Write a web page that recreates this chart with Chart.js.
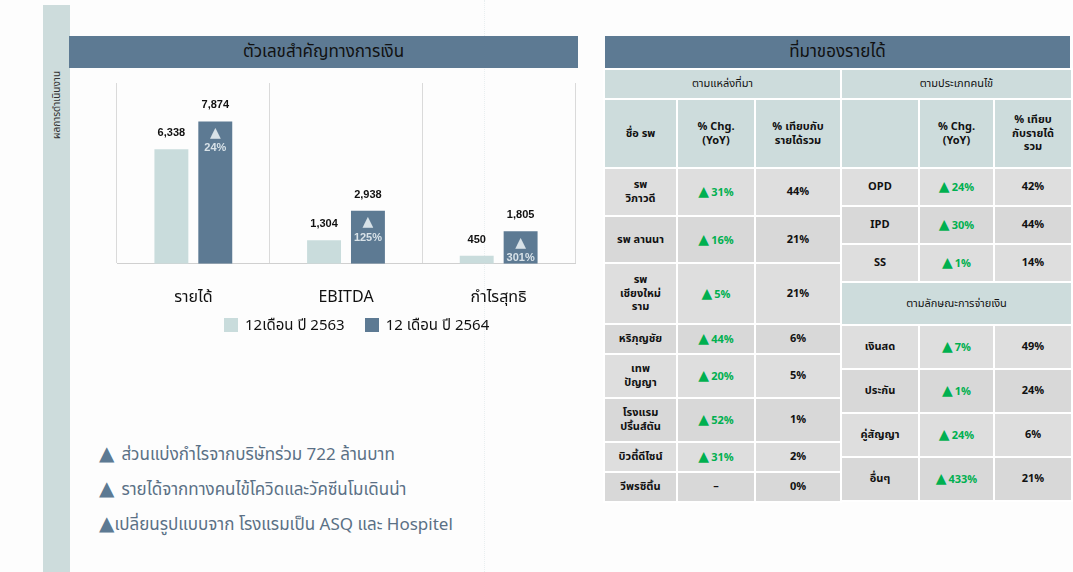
<!DOCTYPE html>
<html>
<head>
<meta charset="utf-8">
<script src="https://cdn.jsdelivr.net/npm/chart.js@4.4.1/dist/chart.umd.min.js"></script>
<style>
  body { margin:0; width:1073px; height:572px; background:#fdfdfd; position:relative; overflow:hidden;
         font-family:"Noto Sans Thai","Noto Sans",sans-serif; }
  .strip { position:absolute; left:43px; top:5px; width:27px; height:567px; background:#cddcdc; }
  .strip span { position:absolute; left:-40px; top:92px; width:108px; transform:rotate(-90deg);
                font-size:10px; color:#333; text-align:center; white-space:nowrap; }
  .dotline { position:absolute; left:484px; top:0; height:572px; border-left:1px dotted #e9eff0; }
  .hbar { position:absolute; height:32px; background:#5d7a93; color:#111; font-size:17px;
          line-height:32px; text-align:center; }
  #chartBox { position:absolute; left:69px; top:68px; width:509px; height:265px; }
  .legend { position:absolute; top:314px; left:224px; font-size:15px; color:#111; white-space:nowrap; }
  .legend span { display:inline-block; width:14px; height:14px; vertical-align:-2px; margin-right:7px; }
  .notes { position:absolute; left:99px; top:438px; color:#5a7085; font-size:17px; }
  .notes div { height:35px; line-height:30px; white-space:nowrap; }
  .notes b { color:#5d7a93; font-weight:normal; font-size:20px; font-family:"DejaVu Sans",sans-serif; }
  .notes b.gap { margin-right:7px; }
  table { position:absolute; border-collapse:collapse; table-layout:fixed; }
  td { border:2px solid #fff; text-align:center; font-size:11px; font-weight:bold; color:#111;
       padding:0 2px; line-height:1.25; }
  td.sub { background:#cddcdc; font-weight:normal; }
  td.hd { background:#cddcdc; }
  tr.r0 td { background:#dedede; }
  tr.r1 td { background:#d8d8d8; }
  .up { color:#00b050; }
  .up b { font-size:14px; font-family:"DejaVu Sans",sans-serif; margin-right:2px; }
</style>
</head>
<body>
<div class="strip"><span>ผลการดำเนินงาน</span></div>
<div class="dotline"></div>
<div class="hbar" style="left:69px;top:36px;width:509px;">ตัวเลขสำคัญทางการเงิน</div>
<div class="hbar" style="left:605px;top:36px;width:465px;">ที่มาของรายได้</div>
<div id="chartBox"><canvas id="c"></canvas></div>
<div class="legend" id="legend"></div>
<div class="notes" id="notes"></div>
<table id="t1" style="left:603px;top:68px;width:237px;"></table>
<table id="t2" style="left:840px;top:68px;width:231px;"></table>
<script>
// bar chart data
const categories = ['รายได้', 'EBITDA', 'กำไรสุทธิ'];
const seriesNames = ['12เดือน ปี 2563', '12 เดือน ปี 2564'];
const seriesColors = ['#c9dcdc', '#5d7a93'];
const values2563 = [6338, 1304, 450];
const values2564 = [7874, 2938, 1805];
const growthPct = ['24%', '125%', '301%'];

// revenue by source
const sourceNames = ['รพ<br>วิภาวดี', 'รพ ลานนา', 'รพ<br>เชียงใหม่<br>ราม', 'หริภุญชัย', 'เทพ<br>ปัญญา', 'โรงแรม<br>ปริ้นส์ตัน', 'บิวตี้ดีไซน์', 'วีพรซิติ้น'];
const sourceChg = ['31%', '16%', '5%', '44%', '20%', '52%', '31%', '-'];
const sourceShare = ['44%', '21%', '21%', '6%', '5%', '1%', '2%', '0%'];
const sourceRowH = [48, 47, 61, 30, 44, 44, 30, 30];

// revenue by patient type
const patientNames = ['OPD', 'IPD', 'SS'];
const patientChg = ['24%', '30%', '1%'];
const patientShare = ['42%', '44%', '14%'];
const patientRowH = [38, 38, 38];

// revenue by payment type
const payNames = ['เงินสด', 'ประกัน', 'คู่สัญญา', 'อื่นๆ'];
const payChg = ['7%', '1%', '24%', '433%'];
const payShare = ['49%', '24%', '6%', '21%'];
const payRowH = [44, 44, 44, 44];

const notes = ['ส่วนแบ่งกำไรจากบริษัทร่วม 722 ล้านบาท', 'รายได้จากทางคนไข้โควิดและวัคซีนโมเดินน่า', 'เปลี่ยนรูปแบบจาก โรงแรมเป็น ASQ และ Hospitel'];

document.getElementById('notes').innerHTML = notes.map((n, i) =>
  '<div><b' + (i < 2 ? ' class="gap"' : '') + '>▲</b>' + n + '</div>').join('');

document.getElementById('legend').innerHTML = seriesNames.map((s, i) =>
  '<span style="background:' + seriesColors[i] + '"></span>' + s).join('<i style="display:inline-block;width:20px"></i>');

function chgCell(v) {
  return v === '-' ? '<td>–</td>' : '<td class="up"><b>▲</b>' + v + '</td>';
}
function dataRows(names, chg, share, heights) {
  return names.map((n, i) =>
    '<tr class="r' + (i % 2) + '" style="height:' + heights[i] + 'px"><td>' + n + '</td>' +
    chgCell(chg[i]) + '<td>' + share[i] + '</td></tr>').join('');
}

document.getElementById('t1').innerHTML =
  '<colgroup><col style="width:73px"><col style="width:78px"><col style="width:86px"></colgroup>' +
  '<tr style="height:30px"><td class="sub" colspan="3">ตามแหล่งที่มา</td></tr>' +
  '<tr style="height:69px"><td class="hd">ชื่อ รพ</td><td class="hd">% Chg.<br>(YoY)</td><td class="hd">% เทียบกับ<br>รายได้รวม</td></tr>' +
  dataRows(sourceNames, sourceChg, sourceShare, sourceRowH);

document.getElementById('t2').innerHTML =
  '<colgroup><col style="width:78px"><col style="width:75px"><col style="width:78px"></colgroup>' +
  '<tr style="height:30px"><td class="sub" colspan="3">ตามประเภทคนไข้</td></tr>' +
  '<tr style="height:69px"><td class="hd"></td><td class="hd">% Chg.<br>(YoY)</td><td class="hd">% เทียบ<br>กับรายได้<br>รวม</td></tr>' +
  dataRows(patientNames, patientChg, patientShare, patientRowH) +
  '<tr style="height:43px"><td class="sub" colspan="3">ตามลักษณะการจ่ายเงิน</td></tr>' +
  dataRows(payNames, payChg, payShare, payRowH);

const barLabels = {
  id: 'barLabels',
  afterDatasetsDraw(chart) {
    const ctx = chart.ctx;
    ctx.save();
    ctx.textAlign = 'center';
    ctx.textBaseline = 'middle';
    chart.data.datasets.forEach((ds, di) => {
      chart.getDatasetMeta(di).data.forEach((bar, i) => {
        ctx.fillStyle = '#111';
        ctx.font = 'bold 11px "Liberation Sans", Arial, sans-serif';
        ctx.fillText(ds.data[i].toLocaleString('en-US'), bar.x, bar.y - 16);
        if (di === 1) {
          ctx.fillStyle = '#d8e2e8';
          ctx.fillText(growthPct[i], bar.x, bar.y + 27);
          ctx.font = 'bold 14px "DejaVu Sans", sans-serif';
          ctx.fillText('▲', bar.x, bar.y + 12);
        }
      });
    });
    ctx.restore();
  }
};

new Chart(document.getElementById('c'), {
  type: 'bar',
  data: {
    labels: categories,
    datasets: [
      { label: seriesNames[0], data: values2563, backgroundColor: seriesColors[0] },
      { label: seriesNames[1], data: values2564, backgroundColor: seriesColors[1] }
    ]
  },
  options: {
    responsive: true,
    maintainAspectRatio: false,
    animation: false,
    categoryPercentage: 0.575,
    barPercentage: 0.773,
    layout: { padding: { left: 48, right: 3, top: 15, bottom: 0 } },
    plugins: {
      tooltip: { enabled: false },
      legend: { display: false }
    },
    scales: {
      y: { display: false, min: 0, max: 10000 },
      x: {
        grid: { offset: true, color: '#dadada', drawTicks: false },
        border: { color: '#d0d0d0' },
        ticks: { color: '#111', padding: 25, font: { size: 16, family: '"Noto Sans Thai","Noto Sans",sans-serif' } }
      }
    }
  },
  plugins: [barLabels]
});
</script>
</body>
</html>
